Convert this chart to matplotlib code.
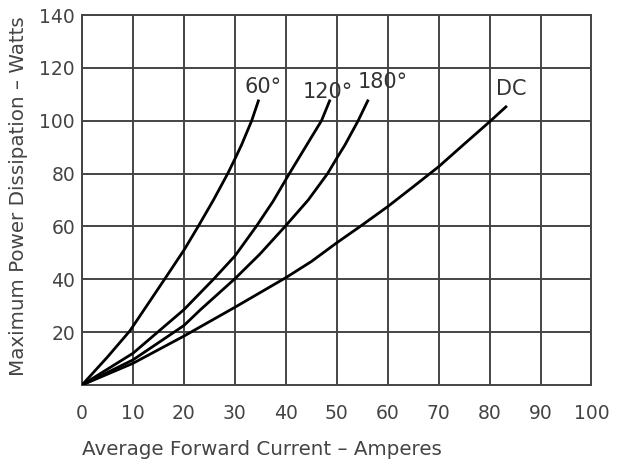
# Coding: utf-8
import matplotlib
matplotlib.use("Agg")
import matplotlib.pyplot as plt

# curves (average forward current [A], max power [W])
x_60 = [0, 5, 9.4, 16.2, 20, 22.8, 25.8, 28.6, 30, 31.3, 33.3, 34.7]
y_60 = [0, 10.6, 20.5, 40, 51, 60, 70, 80, 85.5, 90.8, 100, 108]

x_120 = [0, 10, 20, 25.8, 30, 34.2, 37.5, 40.7, 44.1, 47.0, 48.7]
y_120 = [0, 12, 28.5, 40, 48.8, 60, 69.5, 80, 90.8, 100, 108]

x_180 = [0, 10, 20, 23.2, 30, 34.9, 40, 44.4, 48.2, 50, 51.6, 54.2, 56.2]
y_180 = [0, 9.5, 22.5, 28.4, 40.2, 49.5, 60.3, 70.0, 80, 85.8, 90.8, 100, 108]

x_dc = [0, 10, 20, 30, 40, 45, 50, 54.6, 60, 65, 70, 74.8, 80, 83.4]
y_dc = [0, 8.2, 18.5, 29.4, 40.6, 46.7, 53.8, 60, 67.5, 75, 82.6, 90.8, 99.6, 105.6]

curve_labels = ["60°", "120°", "180°", "DC"]
label_x = [35.6, 48.3, 59.1, 84.3]
label_y = [112.9, 111.0, 114.8, 111.9]

xticks = list(range(0, 101, 10))
yticks = list(range(20, 141, 20))

grey = "#444444"

fig = plt.figure(figsize=(6.2, 4.63), dpi=100)
ax = fig.add_axes([0.1323, 0.1685, 0.8217, 0.7991])

for xs, ys in [(x_60, y_60), (x_120, y_120), (x_180, y_180), (x_dc, y_dc)]:
    ax.plot(xs, ys, '-', color="black", linewidth=2.0, solid_capstyle="butt",
            solid_joinstyle="round", zorder=3)

for txt, tx, ty in zip(curve_labels, label_x, label_y):
    ax.text(tx, ty, txt, ha="center", va="center", fontsize=15, color="#333333", zorder=4)

ax.set_xlim(0, 100)
ax.set_ylim(0, 140)
ax.set_xticks(xticks)
ax.set_yticks(yticks)
ax.grid(True, color=grey, linewidth=1.4)
ax.set_axisbelow(True)
for s in ax.spines.values():
    s.set_color(grey)
    s.set_linewidth(1.4)
ax.tick_params(axis="both", length=0, labelsize=13.5, colors=grey)
ax.tick_params(axis="x", pad=14)
ax.tick_params(axis="y", pad=5)

ax.set_xlabel("Average Forward Current – Amperes", fontsize=14.3, color=grey)
ax.xaxis.set_label_coords(0.0, -0.148)
ax.xaxis.label.set_horizontalalignment("left")
ax.set_ylabel("Maximum Power Dissipation – Watts", fontsize=14.3, color=grey)
ax.yaxis.set_label_coords(-0.107, 0.51)

fig.savefig("out.png", dpi=100)
